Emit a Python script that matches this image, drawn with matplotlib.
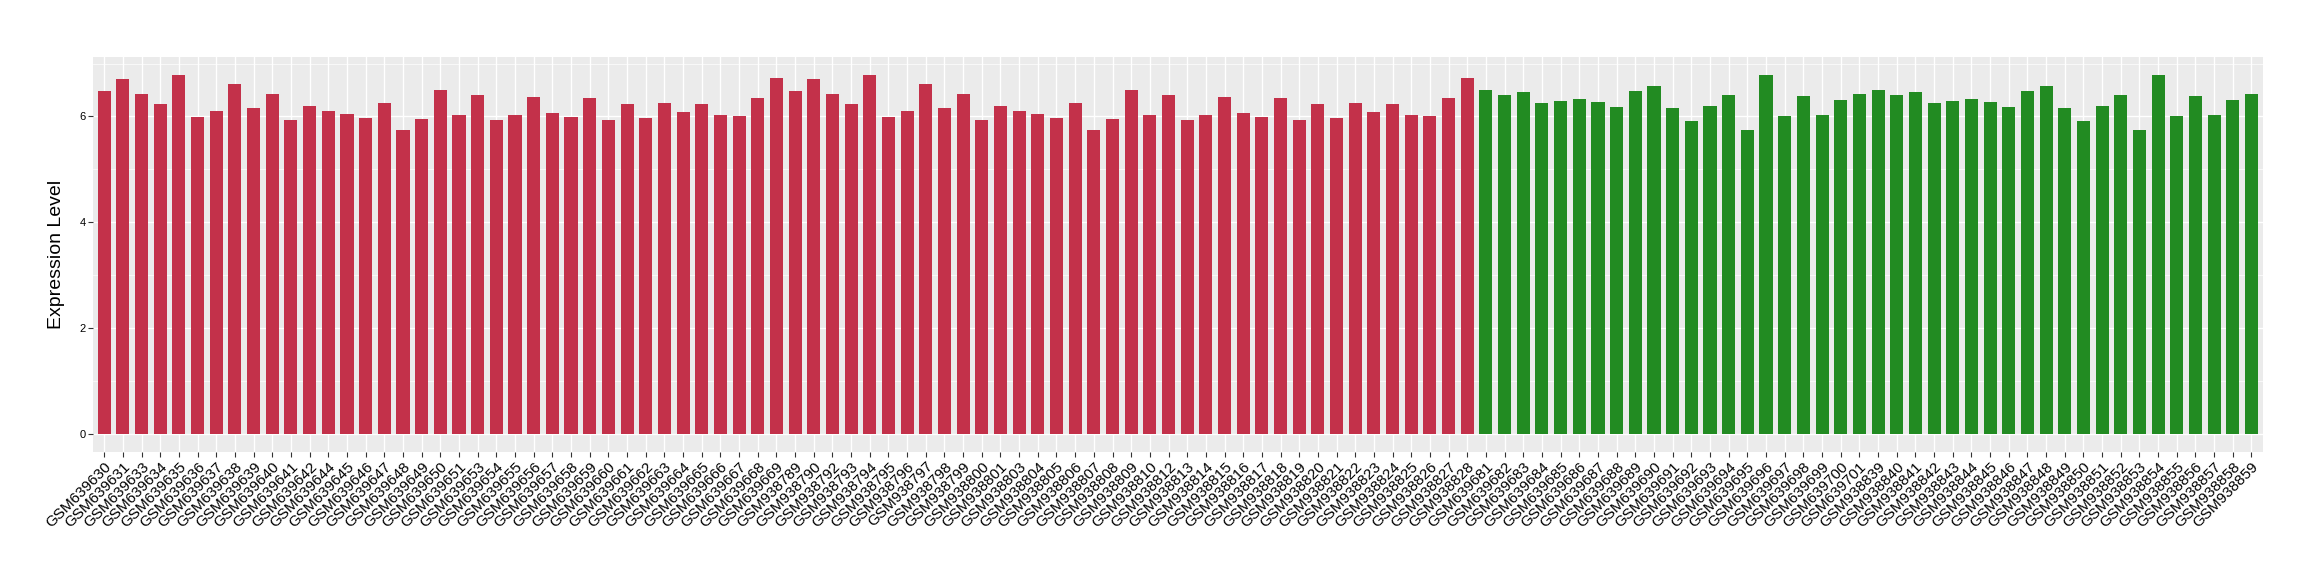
import matplotlib
matplotlib.use("Agg")
import matplotlib.pyplot as plt
from matplotlib.ticker import MultipleLocator

# sample names, grouped as on the x axis
group1_ids = ["GSM639630", "GSM639631", "GSM639633", "GSM639634", "GSM639635", "GSM639636",
              "GSM639637", "GSM639638", "GSM639639", "GSM639640", "GSM639641", "GSM639642",
              "GSM639644", "GSM639645", "GSM639646", "GSM639647", "GSM639648", "GSM639649",
              "GSM639650", "GSM639651", "GSM639653", "GSM639654", "GSM639655", "GSM639656",
              "GSM639657", "GSM639658", "GSM639659", "GSM639660", "GSM639661", "GSM639662",
              "GSM639663", "GSM639664", "GSM639665", "GSM639666", "GSM639667", "GSM639668",
              "GSM639669"]
group2_ids = ["GSM938789", "GSM938790", "GSM938792", "GSM938793", "GSM938794", "GSM938795",
              "GSM938796", "GSM938797", "GSM938798", "GSM938799", "GSM938800", "GSM938801",
              "GSM938803", "GSM938804", "GSM938805", "GSM938806", "GSM938807", "GSM938808",
              "GSM938809", "GSM938810", "GSM938812", "GSM938813", "GSM938814", "GSM938815",
              "GSM938816", "GSM938817", "GSM938818", "GSM938819", "GSM938820", "GSM938821",
              "GSM938822", "GSM938823", "GSM938824", "GSM938825", "GSM938826", "GSM938827",
              "GSM938828"]
group3_ids = ["GSM639681", "GSM639682", "GSM639683", "GSM639684", "GSM639685", "GSM639686",
              "GSM639687", "GSM639688", "GSM639689", "GSM639690", "GSM639691", "GSM639692",
              "GSM639693", "GSM639694", "GSM639695", "GSM639696", "GSM639697", "GSM639698",
              "GSM639699", "GSM639700", "GSM639701"]
group4_ids = ["GSM938839", "GSM938840", "GSM938841", "GSM938842", "GSM938843", "GSM938844",
              "GSM938845", "GSM938846", "GSM938847", "GSM938848", "GSM938849", "GSM938850",
              "GSM938851", "GSM938852", "GSM938853", "GSM938854", "GSM938855", "GSM938856",
              "GSM938857", "GSM938858", "GSM938859"]

# expression values
group1_vals = [6.48, 6.70, 6.42, 6.23, 6.78, 5.99, 6.10, 6.61, 6.16, 6.42, 5.93, 6.19,
               6.10, 6.04, 5.97, 6.25, 5.74, 5.95, 6.51, 6.03, 6.40, 5.93, 6.03, 6.36,
               6.06, 5.99, 6.34, 5.93, 6.23, 5.97, 6.25, 6.08, 6.23, 6.03, 6.01, 6.34,
               6.72]
group2_vals = [6.48, 6.70, 6.42, 6.23, 6.78, 5.99, 6.10, 6.61, 6.16, 6.42, 5.93, 6.19,
               6.10, 6.04, 5.97, 6.25, 5.74, 5.95, 6.51, 6.03, 6.40, 5.93, 6.03, 6.36,
               6.06, 5.99, 6.34, 5.93, 6.23, 5.97, 6.25, 6.08, 6.23, 6.03, 6.01, 6.34,
               6.72]
group3_vals = [6.51, 6.40, 6.46, 6.25, 6.29, 6.33, 6.27, 6.18, 6.48, 6.57, 6.16, 5.91,
               6.19, 6.40, 5.74, 6.79, 6.01, 6.38, 6.03, 6.31, 6.42]
group4_vals = [6.51, 6.40, 6.46, 6.25, 6.29, 6.33, 6.27, 6.18, 6.48, 6.57, 6.16, 5.91,
               6.19, 6.40, 5.74, 6.79, 6.01, 6.38, 6.03, 6.31, 6.42]

RED = "#C3314A"
GREEN = "#228B22"

labels = group1_ids + group2_ids + group3_ids + group4_ids
values = group1_vals + group2_vals + group3_vals + group4_vals
colors = [RED] * (len(group1_ids) + len(group2_ids)) + [GREEN] * (len(group3_ids) + len(group4_ids))

plt.rcParams['font.family'] = ['Liberation Sans', 'DejaVu Sans']

fig = plt.figure(figsize=(23.2, 5.8), dpi=100)
ax = fig.add_axes([0.0401, 0.2212, 0.9352, 0.6810])
ax.set_facecolor("#EBEBEB")

x = list(range(1, len(values) + 1))
ax.bar(x, values, width=0.7, color=colors, zorder=3)

ax.set_xlim(0.4, len(values) + 0.6)
ax.set_ylim(-0.34, 7.13)

# ggplot-like grid
ax.yaxis.set_major_locator(MultipleLocator(2))
ax.yaxis.set_minor_locator(MultipleLocator(1))
ax.grid(which='major', color='white', linewidth=1.0, zorder=0)
ax.grid(which='minor', axis='y', color='white', linewidth=0.5, zorder=0)
ax.set_axisbelow(True)
for s in ax.spines.values():
    s.set_visible(False)

ax.set_xticks(x)
ax.set_xticklabels(labels, rotation=45, ha='right', va='top',
                   rotation_mode='anchor', fontsize=11, color='black')
ax.tick_params(axis='x', which='major', length=3.5, width=0.8, color='#333333', pad=2)
ax.tick_params(axis='y', which='major', length=3.5, width=0.8, color='#333333',
               labelsize=8, labelcolor='black', pad=1.5)
ax.tick_params(axis='y', which='minor', length=0)

ax.set_ylabel("Expression Level", fontsize=14, color='black')
ax.yaxis.set_label_coords(-0.0129, 0.5)

fig.savefig("out.png", dpi=100, facecolor='white')
